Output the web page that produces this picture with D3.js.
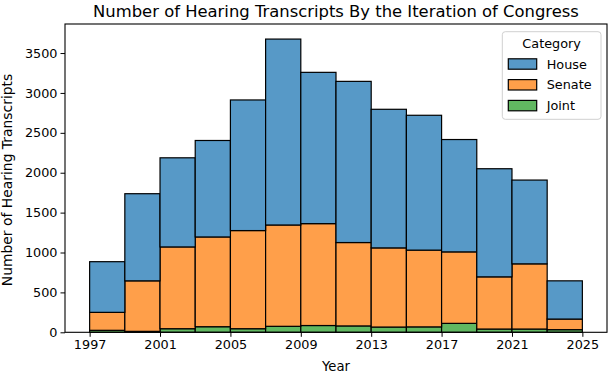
<!DOCTYPE html>
<html><head><meta charset="utf-8">
<script src="https://cdn.jsdelivr.net/npm/d3@7"></script>
<style>body{margin:0;background:#fff}svg{display:block;font-family:"DejaVu Sans",sans-serif}</style>
</head><body><svg id="c" width="610" height="372"></svg>
<script>
const binStarts = [1997,1999,2001,2003,2005,2007,2009,2011,2013,2015,2017,2019,2021,2023];
const binWidth = 2;
const house  = [635,1092,1117,1209,1637,2330,1896,2020,1737,1690,1408,1355,1050,479];
const senate = [225,633,1025,1125,1230,1270,1277,1045,992,962,896,654,817,133];
const joint  = [25,12,45,70,45,75,85,80,66,68,112,41,41,33];
const categories = ["House","Senate","Joint"];
const colors = ["#5799c7","#ff9f4a","#61b861"];
const xTicks = [1997,2001,2005,2009,2013,2017,2021,2025];
const yTicks = [0,500,1000,1500,2000,2500,3000,3500];

const svg = d3.select("#c");
const L=65, R=607, T=24, B=332.3;
const x = d3.scaleLinear().domain([1995.6,2026.4]).range([L,R]);
const y = d3.scaleLinear().domain([0,3864]).range([B,T]);

const rows = binStarts.map((s,i)=>({s, House:house[i], Senate:senate[i], Joint:joint[i]}));
const stack = d3.stack().keys(["Joint","Senate","House"])(rows);
const colorOf = k => colors[categories.indexOf(k)];

stack.forEach(layer=>{
  svg.append("g").selectAll("rect").data(layer).join("rect")
    .attr("x",d=>x(d.data.s)).attr("width",d=>x(d.data.s+binWidth)-x(d.data.s))
    .attr("y",d=>y(d[1])).attr("height",d=>y(d[0])-y(d[1]))
    .attr("fill",colorOf(layer.key)).attr("stroke","#000").attr("stroke-width",1.2);
});

const xa = svg.append("g").attr("transform",`translate(0,${B})`)
  .call(d3.axisBottom(x).tickValues(xTicks).tickFormat(d3.format("d")).tickSize(4.5).tickPadding(3));
const ya = svg.append("g").attr("transform",`translate(${L},0)`)
  .call(d3.axisLeft(y).tickValues(yTicks).tickFormat(d3.format("d")).tickSize(4.5).tickPadding(3));
[xa,ya].forEach(a=>{a.select(".domain").remove();a.selectAll("text").attr("font-size",12.8).attr("fill","#000").attr("font-family","DejaVu Sans");a.selectAll("line").attr("stroke","#000").attr("stroke-width",1);});
svg.append("rect").attr("x",L).attr("y",T).attr("width",R-L).attr("height",B-T).attr("fill","none").attr("stroke","#000").attr("stroke-width",1.1);

svg.append("text").attr("x",(L+R)/2).attr("y",16.5).attr("text-anchor","middle").attr("font-size",16.4).text("Number of Hearing Transcripts By the Iteration of Congress");
svg.append("text").attr("x",(L+R)/2).attr("y",371).attr("text-anchor","middle").attr("font-size",13.2).text("Year");
svg.append("text").attr("transform",`translate(11.5,180) rotate(-90)`).attr("text-anchor","middle").attr("font-size",13.9).text("Number of Hearing Transcripts");

const lg = svg.append("g");
lg.append("rect").attr("x",502.3).attr("y",31.7).attr("width",98.7).attr("height",87.6).attr("rx",3)
  .attr("fill","#fff").attr("fill-opacity",0.8).attr("stroke","#d0d0d0").attr("stroke-width",1);
lg.append("text").attr("x",551.6).attr("y",48).attr("text-anchor","middle").attr("font-size",12.8).text("Category");
categories.forEach((c,i)=>{
  const cy = 64 + i*20.8;
  lg.append("rect").attr("x",508.3).attr("y",cy-5.2).attr("width",28.4).attr("height",10.4)
    .attr("fill",colors[i]).attr("stroke","#000").attr("stroke-width",1.2);
  lg.append("text").attr("x",546.7).attr("y",cy+4.5).attr("font-size",12.8).text(c);
});
</script></body></html>
